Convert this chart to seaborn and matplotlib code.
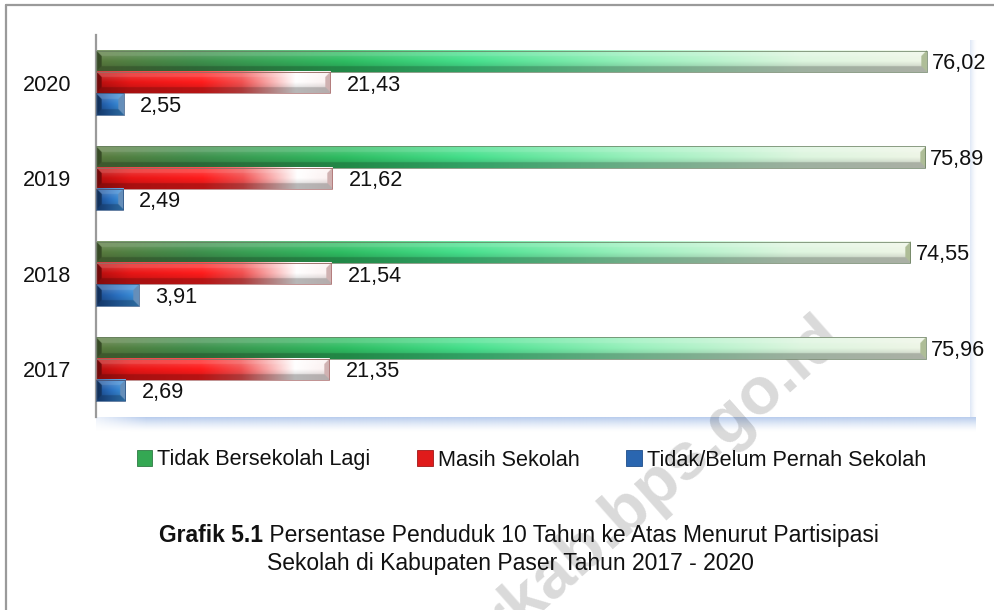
import numpy as np
import pandas as pd
import matplotlib
matplotlib.use("Agg")
import matplotlib.pyplot as plt
import seaborn as sns
from matplotlib.patches import Patch
from matplotlib.lines import Line2D
from matplotlib.colors import to_rgb
from matplotlib import font_manager

# ---------------- data ----------------
years = ["2020", "2019", "2018", "2017"]
series = ["Tidak Bersekolah Lagi", "Masih Sekolah", "Tidak/Belum Pernah Sekolah"]
tidak_bersekolah_lagi = [76.02, 75.89, 74.55, 75.96]
masih_sekolah = [21.43, 21.62, 21.54, 21.35]
belum_pernah_sekolah = [2.55, 2.49, 3.91, 2.69]
caption_bold = "Grafik 5.1"
caption_line1 = " Persentase Penduduk 10 Tahun ke Atas Menurut Partisipasi"
caption_line2 = "Sekolah di Kabupaten Paser Tahun 2017 - 2020"
watermark = "paserkab.bps.go.id"

df = pd.DataFrame({
    "Tahun": years * 3,
    "Seri": np.repeat(series, len(years)),
    "Nilai": tidak_bersekolah_lagi + masih_sekolah + belum_pernah_sekolah,
})

# ---------------- style ----------------
sns.set_theme(style="white")
names = {f.name for f in font_manager.fontManager.ttflist}
if "Liberation Sans Narrow" in names:
    plt.rcParams["font.family"] = ["Liberation Sans Narrow", "Liberation Sans", "DejaVu Sans"]
    FS, FS_CAP = 18.5, 20.0
else:
    plt.rcParams["font.family"] = ["Liberation Sans", "DejaVu Sans"]
    FS, FS_CAP = 15.6, 16.5
CAP_PX = FS * 100 / 72 * 0.716  # digit height in pixels

W_PX, H_PX = 995, 610
fig = plt.figure(figsize=(W_PX / 100, H_PX / 100), dpi=100)
fig.patch.set_facecolor("white")


def fx(px):
    return px / W_PX


def fy(py):
    return 1 - py / H_PX


AX_L, AX_R, AX_T, AX_B = 96, 970, 35, 417
ax = fig.add_axes([fx(AX_L), fy(AX_B), fx(AX_R - AX_L), (AX_B - AX_T) / H_PX])
ax.set_zorder(2)
ax.patch.set_alpha(0)

base_pal = {series[0]: "#3aa655", series[1]: "#e81818", series[2]: "#2a6ab4"}
sns.barplot(data=df, y="Tahun", x="Nilai", hue="Seri", order=years,
            hue_order=series, orient="h", width=0.675, gap=0,
            palette=base_pal, errorbar=None, legend=False, ax=ax,
            edgecolor="none")
XMAX = 80
ax.set_xlim(0, XMAX)
ax.set_ylim(3.5, -0.5)

# ---------------- beveled gradient bars ----------------
stops = {
    series[0]: [(0.0, "#5a7a3e"), (0.12, "#3f8f4c"), (0.30, "#2ebd62"),
                (0.45, "#45e08c"), (0.65, "#98f0bc"), (0.85, "#dcf5de"),
                (1.0, "#eef5e6")],
    series[1]: [(0.0, "#b80f0f"), (0.15, "#e81616"), (0.45, "#ff1c1c"),
                (0.62, "#f25050"), (0.85, "#ffffff"), (1.0, "#fbefef")],
    series[2]: [(0.0, "#1a4a8e"), (0.5, "#2a70c0"), (1.0, "#3f95dc")],
}
caps = {series[0]: "#a3b48a", series[1]: "#c9a7a7", series[2]: "#6d8fb5"}
edges = {series[0]: "#62785a", series[1]: "#a86868", series[2]: "#2a4f80"}


def interp(stp, t):
    pos = np.array([p for p, _ in stp])
    cols = np.array([to_rgb(c) for _, c in stp])
    return np.stack([np.interp(t, pos, cols[:, k]) for k in range(3)], axis=-1)


def mix(a, b, f):
    return a * (1 - f) + np.asarray(b) * f


def bar_image(wp, hp, stp, cap, bevel=5.5, sc=3):
    W = max(int(round(wp * sc)), 3)
    H = max(int(round(hp * sc)), 3)
    b = bevel * sc
    t = (np.arange(W) + 0.5) / W
    base = interp(stp, t)
    img = np.repeat(base[None, :, :], H, axis=0)
    r = np.arange(H)[:, None] * np.ones((1, W))
    c = np.ones((H, 1)) * np.arange(W)[None, :]
    v = (r + 0.5) / H
    amt = 0.5 - v
    light = np.clip(amt, 0, None)[..., None] * 0.5
    dark = np.clip(-amt, 0, None)[..., None] * 0.45
    img = mix(img, (1, 1, 1), light)
    img = mix(img, (0, 0, 0), dark)
    d = np.stack([r, H - 1 - r, c, W - 1 - c])
    reg = np.argmin(d, axis=0)
    dm = np.min(d, axis=0)
    m = dm < b
    top = m & (reg == 0)
    bot = m & (reg == 1)
    lef = m & (reg == 2)
    rig = m & (reg == 3)
    raw = np.repeat(base[None, :, :], H, axis=0)
    img[top] = mix(raw[top], (1, 1, 1), 0.22)
    img[bot] = mix(raw[bot], (0, 0, 0), 0.28)
    img[lef] = mix(raw[lef], (0, 0, 0), 0.38)
    img[rig] = mix(raw[rig], to_rgb(cap), 0.85)
    return np.clip(img, 0, 1)


px_x = (AX_R - AX_L) / XMAX
px_y = (AX_B - AX_T) / 4.0

for cont, s in zip(ax.containers, series):
    for p in cont.patches:
        x0, y0, w, h = p.get_x(), p.get_y(), p.get_width(), p.get_height()
        img = bar_image(w * px_x, h * px_y, stops[s], caps[s])
        ax.imshow(img, extent=[x0, x0 + w, y0 + h, y0], origin="upper",
                  aspect="auto", interpolation="bilinear", zorder=2)
        p.set_facecolor("none")
        p.set_edgecolor(edges[s])
        p.set_linewidth(0.5)
        p.set_zorder(3)

ax.set_xlim(0, XMAX)
ax.set_ylim(3.5, -0.5)

# value labels
offsets = {series[0]: 5, series[1]: 17, series[2]: 16}
for cont, s in zip(ax.containers, series):
    for p in cont.patches:
        val = p.get_width()
        yc = p.get_y() + p.get_height() / 2
        ax.annotate(f"{val:.2f}".replace(".", ","), (val, yc),
                    xytext=(offsets[s], -CAP_PX / 2), textcoords="offset pixels",
                    ha="left", va="baseline", fontsize=FS, color="#111111",
                    annotation_clip=False, zorder=5)

# axes cosmetics
for sp in ["top", "right", "bottom"]:
    ax.spines[sp].set_visible(False)
ax.spines["left"].set_color("#9a9a9a")
ax.spines["left"].set_linewidth(1.6)
ax.set_xticks([])
ax.set_xlabel("")
ax.set_ylabel("")
ax.tick_params(axis="y", length=0, pad=18, labelsize=FS, labelcolor="#111111")
ax.grid(False)

# ---------------- plot-area shadow ----------------
sh_b = fig.add_axes([fx(AX_L), fy(AX_B + 15), fx(AX_R + 6 - AX_L), 15 / H_PX])
gy = np.linspace(0, 1, 30)[:, None]
gx = np.ones((1, 200))
gx[0, :12] = np.linspace(0.3, 1, 12)
alpha_b = (1 - gy) ** 1.4 * gx
col = np.zeros((30, 200, 4))
col[..., :3] = to_rgb("#b5caec")
col[..., 3] = alpha_b * 0.95
sh_b.imshow(col, aspect="auto", extent=[0, 1, 0, 1], origin="upper")
sh_b.axis("off")
sh_b.set_zorder(0)

sh_r = fig.add_axes([fx(AX_R), fy(AX_B), fx(7), (AX_B - 40) / H_PX])
col2 = np.zeros((50, 20, 4))
col2[..., :3] = to_rgb("#c9d8f0")
col2[..., 3] = (1 - np.linspace(0, 1, 20)[None, :]) ** 1.5 * 0.6
sh_r.imshow(col2, aspect="auto", extent=[0, 1, 0, 1], origin="upper")
sh_r.axis("off")
sh_r.set_zorder(0)

# ---------------- outer frame ----------------
fig.add_artist(Line2D([fx(6), fx(6)], [fy(5), 0], color="#9a9a9a", lw=1.6))
fig.add_artist(Line2D([fx(6), 1], [fy(5), fy(5)], color="#9a9a9a", lw=1.6))

# ---------------- legend ----------------
leg_cols = ["#34a853", "#e01b1b", "#2a66b0"]
leg_edge = ["#2f7a44", "#a01818", "#1f4e8a"]
handles = [Patch(facecolor=c, edgecolor=e, linewidth=0.6, label=s)
           for c, e, s in zip(leg_cols, leg_edge, series)]
hl = 11.0 / FS
fig.legend(handles=handles, loc="center left",
           bbox_to_anchor=(fx(126), fy(460)), ncol=3, frameon=False,
           fontsize=FS, handlelength=hl, handleheight=hl,
           handletextpad=3.6 / FS, columnspacing=33.8 / FS, borderpad=0,
           labelcolor="#111111")

# ---------------- caption ----------------
fig.canvas.draw()
r = fig.canvas.get_renderer()
tb = fig.text(0, fy(542), caption_bold, fontsize=FS_CAP, fontweight="bold",
              color="#111111", ha="left", va="baseline")
tn = fig.text(0, fy(542), caption_line1, fontsize=FS_CAP, color="#111111",
              ha="left", va="baseline")
wb = tb.get_window_extent(r).width
wn = tn.get_window_extent(r).width
start = 519 - (wb + wn) / 2
tb.set_x(fx(start))
tn.set_x(fx(start + wb))
fig.text(fx(510), fy(570), caption_line2, fontsize=FS_CAP, color="#111111",
         ha="center", va="baseline")

# ---------------- watermark ----------------
fig.text(fx(845), fy(340), watermark, fontsize=48, fontweight="bold",
         color="#000000", alpha=0.15, rotation=41.5, rotation_mode="anchor",
         ha="right", va="baseline", zorder=1)

fig.savefig("out.png", dpi=100, facecolor="white")
